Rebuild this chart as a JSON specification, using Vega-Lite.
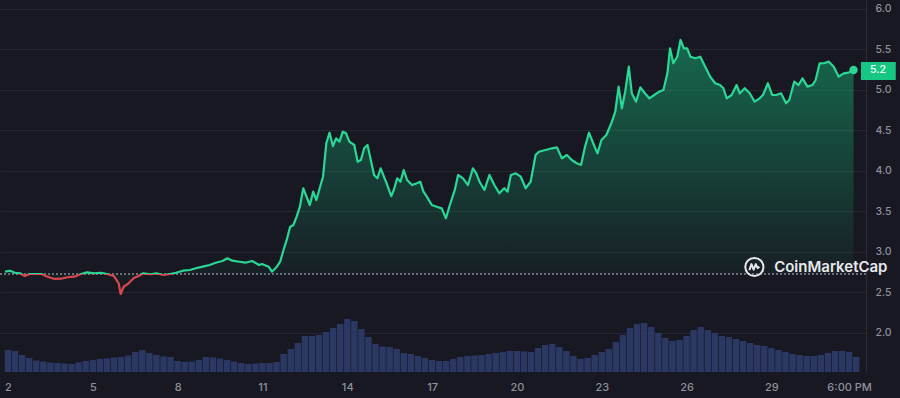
{
  "$schema": "https://vega.github.io/schema/vega-lite/v6.json",
  "width": 866,
  "height": 372,
  "autosize": {"type": "none"},
  "padding": {"left": 0, "top": 0, "right": 34, "bottom": 26},
  "background": "#171821",
  "config": {
    "view": {"stroke": null},
    "font": "Inter",
    "axis": {"labelFont": "Inter"}
  },
  "datasets": {
    "price": [
      {"d":1.895,"p":2.753},{"d":2.070,"p":2.765},{"d":2.245,"p":2.740},{"d":2.420,"p":2.733},{"d":2.594,"p":2.700},
      {"d":2.769,"p":2.724},{"d":2.944,"p":2.724},{"d":3.189,"p":2.724},{"d":3.399,"p":2.691},{"d":3.643,"p":2.663},
      {"d":3.888,"p":2.666},{"d":4.098,"p":2.684},{"d":4.343,"p":2.691},{"d":4.587,"p":2.724},{"d":4.797,"p":2.745},
      {"d":5.042,"p":2.733},{"d":5.287,"p":2.740},{"d":5.497,"p":2.724},{"d":5.741,"p":2.700},{"d":5.916,"p":2.609},
      {"d":5.986,"p":2.477},{"d":6.091,"p":2.567},{"d":6.266,"p":2.609},{"d":6.441,"p":2.671},{"d":6.615,"p":2.700},
      {"d":6.790,"p":2.733},{"d":7.035,"p":2.721},{"d":7.245,"p":2.733},{"d":7.490,"p":2.712},{"d":7.734,"p":2.724},
      {"d":7.944,"p":2.740},{"d":8.189,"p":2.765},{"d":8.434,"p":2.774},{"d":8.643,"p":2.795},{"d":8.888,"p":2.815},
      {"d":9.133,"p":2.836},{"d":9.343,"p":2.864},{"d":9.587,"p":2.885},{"d":9.762,"p":2.918},{"d":9.937,"p":2.889},
      {"d":10.182,"p":2.876},{"d":10.392,"p":2.864},{"d":10.636,"p":2.885},{"d":10.881,"p":2.836},{"d":10.986,"p":2.848},
      {"d":11.220,"p":2.815},{"d":11.336,"p":2.753},{"d":11.510,"p":2.815},{"d":11.626,"p":2.876},{"d":11.745,"p":3.021},
      {"d":11.860,"p":3.145},{"d":11.976,"p":3.305},{"d":12.095,"p":3.330},{"d":12.210,"p":3.433},{"d":12.325,"p":3.556},
      {"d":12.444,"p":3.784},{"d":12.559,"p":3.680},{"d":12.675,"p":3.577},{"d":12.794,"p":3.742},{"d":12.909,"p":3.639},
      {"d":13.024,"p":3.784},{"d":13.143,"p":3.927},{"d":13.259,"p":4.340},{"d":13.374,"p":4.471},{"d":13.493,"p":4.306},
      {"d":13.608,"p":4.402},{"d":13.724,"p":4.360},{"d":13.843,"p":4.483},{"d":13.958,"p":4.463},{"d":14.073,"p":4.360},
      {"d":14.248,"p":4.319},{"d":14.367,"p":4.112},{"d":14.482,"p":4.133},{"d":14.598,"p":4.278},{"d":14.717,"p":4.319},
      {"d":14.832,"p":4.133},{"d":14.948,"p":3.948},{"d":15.066,"p":3.907},{"d":15.182,"p":4.031},{"d":15.297,"p":3.927},
      {"d":15.416,"p":3.824},{"d":15.556,"p":3.688},{"d":15.647,"p":3.763},{"d":15.766,"p":3.907},{"d":15.881,"p":3.865},
      {"d":15.997,"p":4.010},{"d":16.116,"p":3.886},{"d":16.290,"p":3.824},{"d":16.465,"p":3.845},{"d":16.580,"p":3.865},
      {"d":16.696,"p":3.742},{"d":16.815,"p":3.680},{"d":16.990,"p":3.577},{"d":17.164,"p":3.556},{"d":17.339,"p":3.536},
      {"d":17.490,"p":3.413},{"d":17.629,"p":3.577},{"d":17.804,"p":3.763},{"d":17.920,"p":3.948},{"d":18.095,"p":3.907},
      {"d":18.269,"p":3.824},{"d":18.444,"p":4.031},{"d":18.563,"p":3.969},{"d":18.678,"p":3.865},{"d":18.853,"p":3.763},
      {"d":19.028,"p":3.948},{"d":19.203,"p":3.824},{"d":19.378,"p":3.722},{"d":19.552,"p":3.784},{"d":19.668,"p":3.742},
      {"d":19.787,"p":3.948},{"d":19.962,"p":3.969},{"d":20.136,"p":3.927},{"d":20.311,"p":3.784},{"d":20.486,"p":3.865},
      {"d":20.661,"p":4.195},{"d":20.776,"p":4.236},{"d":21.010,"p":4.257},{"d":21.241,"p":4.278},{"d":21.416,"p":4.290},
      {"d":21.591,"p":4.154},{"d":21.766,"p":4.195},{"d":21.940,"p":4.133},{"d":22.115,"p":4.093},{"d":22.269,"p":4.072},
      {"d":22.409,"p":4.298},{"d":22.549,"p":4.471},{"d":22.699,"p":4.340},{"d":22.850,"p":4.216},{"d":22.990,"p":4.381},
      {"d":23.164,"p":4.443},{"d":23.339,"p":4.587},{"d":23.479,"p":4.730},{"d":23.598,"p":5.040},{"d":23.713,"p":4.772},
      {"d":23.829,"p":4.978},{"d":23.958,"p":5.287},{"d":24.063,"p":4.958},{"d":24.213,"p":4.854},{"d":24.367,"p":5.032},
      {"d":24.528,"p":4.958},{"d":24.682,"p":4.896},{"d":24.857,"p":4.937},{"d":25.032,"p":4.978},{"d":25.182,"p":4.999},
      {"d":25.322,"p":5.205},{"d":25.416,"p":5.514},{"d":25.531,"p":5.329},{"d":25.671,"p":5.410},{"d":25.787,"p":5.617},
      {"d":25.906,"p":5.514},{"d":26.021,"p":5.514},{"d":26.137,"p":5.410},{"d":26.311,"p":5.391},{"d":26.486,"p":5.410},
      {"d":26.661,"p":5.287},{"d":26.836,"p":5.163},{"d":27.011,"p":5.082},{"d":27.185,"p":5.060},{"d":27.304,"p":5.020},
      {"d":27.420,"p":4.896},{"d":27.595,"p":4.937},{"d":27.769,"p":5.060},{"d":27.885,"p":4.958},{"d":28.060,"p":5.020},
      {"d":28.234,"p":4.958},{"d":28.409,"p":4.854},{"d":28.584,"p":4.896},{"d":28.703,"p":4.937},{"d":28.878,"p":5.082},
      {"d":29.028,"p":4.937},{"d":29.168,"p":4.937},{"d":29.343,"p":4.958},{"d":29.518,"p":4.834},{"d":29.633,"p":4.875},
      {"d":29.808,"p":5.101},{"d":29.962,"p":5.060},{"d":30.102,"p":5.143},{"d":30.277,"p":5.040},{"d":30.451,"p":5.060},
      {"d":30.567,"p":5.122},{"d":30.707,"p":5.329},{"d":30.857,"p":5.329},{"d":31.032,"p":5.349},{"d":31.206,"p":5.287},
      {"d":31.381,"p":5.163},{"d":31.556,"p":5.205},{"d":31.731,"p":5.213},{"d":31.906,"p":5.246}
    ],
    "last": [{"d":31.906,"p":5.246,"label":"5.2"}],
    "volume": [
      {"d":2.0,"v":22},{"d":2.25,"v":21},{"d":2.5,"v":17},{"d":2.75,"v":14},{"d":3.0,"v":11.5},{"d":3.25,"v":10.5},
      {"d":3.5,"v":9.5},{"d":3.75,"v":9},{"d":4.0,"v":8.5},{"d":4.25,"v":8},{"d":4.5,"v":9.5},{"d":4.75,"v":11},
      {"d":5.0,"v":12},{"d":5.25,"v":13},{"d":5.5,"v":13.5},{"d":5.75,"v":14.5},{"d":6.0,"v":15},{"d":6.25,"v":16.5},
      {"d":6.5,"v":20},{"d":6.75,"v":22},{"d":7.0,"v":19},{"d":7.25,"v":17},{"d":7.5,"v":15.5},{"d":7.75,"v":15},
      {"d":8.0,"v":11},{"d":8.25,"v":10},{"d":8.5,"v":10.5},{"d":8.75,"v":12},{"d":9.0,"v":15},{"d":9.25,"v":14.5},
      {"d":9.5,"v":13.5},{"d":9.75,"v":12},{"d":10.0,"v":10.5},{"d":10.25,"v":9},{"d":10.5,"v":8},{"d":10.75,"v":8.5},
      {"d":11.0,"v":9},{"d":11.25,"v":9},{"d":11.5,"v":10},{"d":11.75,"v":18},{"d":12.0,"v":23},{"d":12.25,"v":29},
      {"d":12.5,"v":36},{"d":12.75,"v":36},{"d":13.0,"v":37},{"d":13.25,"v":40},{"d":13.5,"v":44},{"d":13.75,"v":48},
      {"d":14.0,"v":53},{"d":14.25,"v":51},{"d":14.5,"v":43},{"d":14.75,"v":35},{"d":15.0,"v":28},{"d":15.25,"v":25.5},
      {"d":15.5,"v":25},{"d":15.75,"v":23},{"d":16.0,"v":19},{"d":16.25,"v":18},{"d":16.5,"v":16},{"d":16.75,"v":14},
      {"d":17.0,"v":12},{"d":17.25,"v":11},{"d":17.5,"v":11},{"d":17.75,"v":13},{"d":18.0,"v":15},{"d":18.25,"v":16},
      {"d":18.5,"v":16.5},{"d":18.75,"v":17},{"d":19.0,"v":18},{"d":19.25,"v":19},{"d":19.5,"v":20},{"d":19.75,"v":21},
      {"d":20.0,"v":21},{"d":20.25,"v":20.5},{"d":20.5,"v":20},{"d":20.75,"v":24},{"d":21.0,"v":27},{"d":21.25,"v":28},
      {"d":21.5,"v":25},{"d":21.75,"v":21},{"d":22.0,"v":16},{"d":22.25,"v":13},{"d":22.5,"v":14},{"d":22.75,"v":17},
      {"d":23.0,"v":20},{"d":23.25,"v":23},{"d":23.5,"v":30},{"d":23.75,"v":37},{"d":24.0,"v":44},{"d":24.25,"v":48},
      {"d":24.5,"v":49},{"d":24.75,"v":45},{"d":25.0,"v":39},{"d":25.25,"v":34},{"d":25.5,"v":31},{"d":25.75,"v":32},
      {"d":26.0,"v":36},{"d":26.25,"v":42},{"d":26.5,"v":45},{"d":26.75,"v":42},{"d":27.0,"v":39},{"d":27.25,"v":36},
      {"d":27.5,"v":35},{"d":27.75,"v":33},{"d":28.0,"v":31},{"d":28.25,"v":29},{"d":28.5,"v":27},{"d":28.75,"v":26},
      {"d":29.0,"v":24},{"d":29.25,"v":22},{"d":29.5,"v":20},{"d":29.75,"v":18},{"d":30.0,"v":17},{"d":30.25,"v":16},
      {"d":30.5,"v":16},{"d":30.75,"v":17},{"d":31.0,"v":19},{"d":31.25,"v":21},{"d":31.5,"v":21},{"d":31.75,"v":20},
      {"d":32.0,"v":15}
    ],
    "brand": [{"d_logo":28.399,"d_text":29.098,"p":2.811,"name":"CoinMarketCap"}]
  },
  "resolve": {"scale": {"y": "independent"}},
  "layer": [
    {
      "data": {"name": "volume"},
      "mark": {"type": "bar", "size": 6.4, "color": "#2c3a68", "opacity": 0.95},
      "encoding": {
        "x": {
          "field": "d", "type": "quantitative",
          "scale": {"domain": [1.895, 32.17], "nice": false, "zero": false},
          "axis": {
            "values": [2, 5, 8, 11, 14, 17, 20, 23, 26, 29, 31.75],
            "format": "d",
            "labelExpr": "datum.value > 31 ? '6:00 PM' : datum.label",
            "domain": false, "ticks": false, "grid": false,
            "labelColor": "#8e919b", "labelFontSize": 11, "labelFontWeight": 500,
            "labelPadding": 9, "title": null, "labelFlush": false
          }
        },
        "y": {
          "field": "v", "type": "quantitative",
          "scale": {"domain": [0, 372], "nice": false},
          "axis": null
        }
      }
    },
    {
      "layer": [
        {
          "data": {"name": "price"},
          "mark": {
            "type": "area",
            "fill": {
              "gradient": "linear", "x1": 0, "y1": 0, "x2": 0, "y2": 1,
              "stops": [
                {"offset": 0, "color": "rgba(22,199,132,0.46)"},
                {"offset": 0.92, "color": "rgba(22,199,132,0.04)"},
                {"offset": 1, "color": "rgba(22,199,132,0)"}
              ]
            }
          },
          "encoding": {
            "x": {"field": "d", "type": "quantitative", "scale": {"domain": [1.895, 32.17], "nice": false, "zero": false}},
            "y": {
              "field": "p", "type": "quantitative",
              "scale": {"domain": [1.513, 6.111], "nice": false, "zero": false},
              "axis": {
                "orient": "right",
                "values": [2.0, 2.5, 3.0, 3.5, 4.0, 4.5, 5.0, 5.5, 6.0],
                "format": ".1f",
                "grid": true, "gridColor": "#252733", "gridWidth": 1,
                "domain": true, "domainColor": "#2a2c38",
                "ticks": false,
                "labelColor": "#8e919b", "labelFontSize": 10.5, "labelFontWeight": 500,
                "labelPadding": 9, "title": null
              }
            },
            "y2": {"datum": 2.724}
          }
        },
        {
          "data": {"name": "price"},
          "mark": {"type": "rule", "color": "#6e717c", "strokeWidth": 1.5, "strokeDash": [1.5, 2.5]},
          "encoding": {
            "y": {"datum": 2.724, "type": "quantitative", "scale": {"domain": [1.513, 6.111], "nice": false, "zero": false}}
          }
        },
        {
          "data": {"name": "price"},
          "mark": {
            "type": "line", "strokeWidth": 2.2, "strokeJoin": "round",
            "stroke": {
              "gradient": "linear", "x1": 0, "y1": 0, "x2": 0, "y2": 1,
              "stops": [
                {"offset": 0, "color": "#2ad795"},
                {"offset": 0.921, "color": "#2ad795"},
                {"offset": 0.9215, "color": "#d9474e"},
                {"offset": 1, "color": "#d9474e"}
              ]
            }
          },
          "encoding": {
            "x": {"field": "d", "type": "quantitative", "scale": {"domain": [1.895, 32.17], "nice": false, "zero": false}},
            "y": {"field": "p", "type": "quantitative", "scale": {"domain": [1.513, 6.111], "nice": false, "zero": false}}
          }
        },
        {
          "data": {"name": "last"},
          "mark": {"type": "point", "shape": "circle", "filled": true, "size": 70, "color": "#2ad795", "opacity": 1},
          "encoding": {
            "x": {"field": "d", "type": "quantitative", "scale": {"domain": [1.895, 32.17], "nice": false, "zero": false}},
            "y": {"field": "p", "type": "quantitative", "scale": {"domain": [1.513, 6.111], "nice": false, "zero": false}}
          }
        },
        {
          "data": {"name": "last"},
          "mark": {"type": "rect", "color": "#16c784"},
          "encoding": {
            "x": {"datum": 32.17, "type": "quantitative", "scale": {"domain": [1.895, 32.17], "nice": false, "zero": false}},
            "x2": {"datum": 33.4},
            "y": {"datum": 5.345, "type": "quantitative", "scale": {"domain": [1.513, 6.111], "nice": false, "zero": false}},
            "y2": {"datum": 5.123}
          }
        },
        {
          "data": {"name": "last"},
          "mark": {"type": "text", "color": "#ffffff", "fontSize": 10.5, "fontWeight": 500, "align": "center", "baseline": "middle", "dx": 17},
          "encoding": {
            "x": {"datum": 32.17, "type": "quantitative", "scale": {"domain": [1.895, 32.17], "nice": false, "zero": false}},
            "y": {"field": "p", "type": "quantitative", "scale": {"domain": [1.513, 6.111], "nice": false, "zero": false}},
            "text": {"field": "label"}
          }
        },
        {
          "data": {"name": "brand"},
          "mark": {"type": "point", "shape": "circle", "filled": false, "size": 330, "stroke": "#e8e8ec", "strokeWidth": 2, "opacity": 1},
          "encoding": {
            "x": {"field": "d_logo", "type": "quantitative", "scale": {"domain": [1.895, 32.17], "nice": false, "zero": false}},
            "y": {"field": "p", "type": "quantitative", "scale": {"domain": [1.513, 6.111], "nice": false, "zero": false}}
          }
        },
        {
          "data": {"name": "brand"},
          "mark": {"type": "point", "shape": "M -0.55 0.35 L -0.32 -0.32 L -0.08 0.3 L 0.16 -0.32 L 0.36 0.12 L 0.56 -0.02", "filled": false, "size": 330, "stroke": "#e8e8ec", "strokeWidth": 2, "strokeJoin": "round", "opacity": 1},
          "encoding": {
            "x": {"field": "d_logo", "type": "quantitative", "scale": {"domain": [1.895, 32.17], "nice": false, "zero": false}},
            "y": {"field": "p", "type": "quantitative", "scale": {"domain": [1.513, 6.111], "nice": false, "zero": false}}
          }
        },
        {
          "data": {"name": "brand"},
          "mark": {"type": "text", "color": "#e8e8ec", "fontSize": 15, "fontWeight": 600, "align": "left", "baseline": "middle"},
          "encoding": {
            "x": {"field": "d_text", "type": "quantitative", "scale": {"domain": [1.895, 32.17], "nice": false, "zero": false}},
            "y": {"field": "p", "type": "quantitative", "scale": {"domain": [1.513, 6.111], "nice": false, "zero": false}},
            "text": {"field": "name"}
          }
        }
      ]
    }
  ]
}
